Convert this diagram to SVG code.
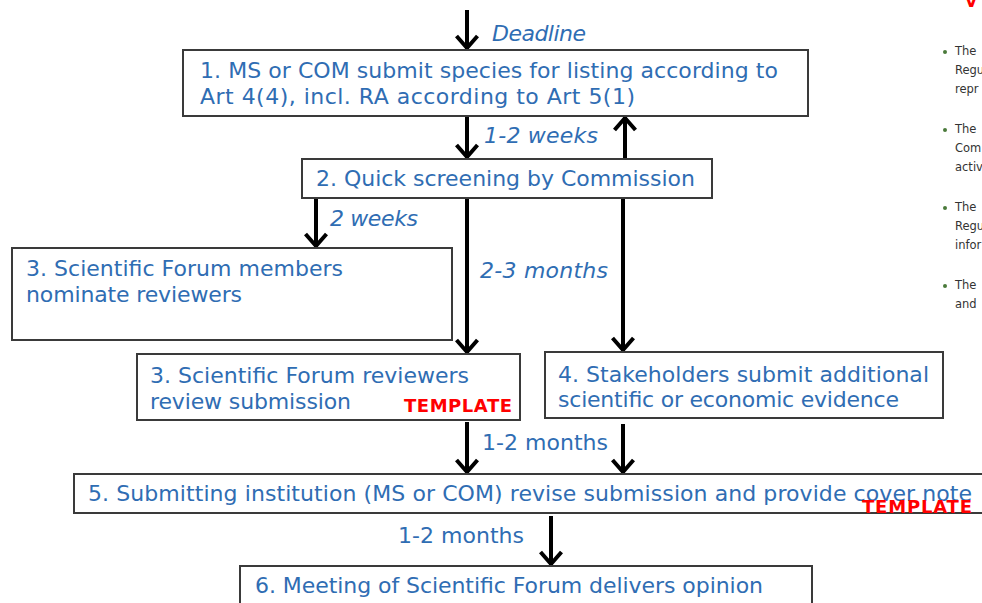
<svg xmlns="http://www.w3.org/2000/svg" width="982" height="603" viewBox="0 0 982 603">
<defs>
<marker id="ah" viewBox="0 0 24 24" refX="20" refY="12" markerWidth="24" markerHeight="24" markerUnits="userSpaceOnUse" orient="auto">
<path d="M7,1.5 L19,12 L7,22.5" fill="none" stroke="#000" stroke-width="4"/>
</marker>
<style>
.box{fill:#fff;stroke:#3a3a3a;stroke-width:2}
.t{font-family:"DejaVu Sans",Verdana,sans-serif;font-size:22px;fill:#2f6db3}
.l{font-family:"DejaVu Sans",Verdana,sans-serif;font-size:22px;fill:#2f6db3}
.i{font-style:italic}
.tpl{font-family:"DejaVu Sans",Verdana,sans-serif;font-size:18px;font-weight:bold;fill:#ff0000}
.c{stroke:#000;stroke-width:4;fill:none;marker-end:url(#ah)}
.side{font-family:"DejaVu Sans",Verdana,sans-serif;font-size:11.5px;fill:#333}
</style>
</defs>
<rect width="982" height="603" fill="#fff"/>
<g id="connectors">
<line class="c" x1="467" y1="10" x2="467" y2="49"/>
<line class="c" x1="467" y1="117" x2="467" y2="158"/>
<line class="c" x1="625" y1="158" x2="625" y2="117"/>
<line class="c" x1="316" y1="199" x2="316" y2="247"/>
<line class="c" x1="467" y1="199" x2="467" y2="353"/>
<line class="c" x1="623" y1="199" x2="623" y2="351"/>
<line class="c" x1="467" y1="422" x2="467" y2="473"/>
<line class="c" x1="623" y1="424" x2="623" y2="473"/>
<line class="c" x1="551" y1="516" x2="551" y2="565"/>
<text class="l i" x="492" y="41" textLength="94">Deadline</text>
<text class="l i" x="484" y="143" textLength="114">1-2 weeks</text>
<text class="l i" x="330" y="226" textLength="88">2 weeks</text>
<text class="l i" x="480" y="278" textLength="128">2-3 months</text>
<text class="l" x="482" y="450" textLength="126">1-2 months</text>
<text class="l" x="398" y="543" textLength="126">1-2 months</text>
</g>
<g id="n1">
<rect class="box" x="183" y="50" width="625" height="66"/>
<text class="t" x="200" y="78" textLength="578">1. MS or COM submit species for listing according to</text>
<text class="t" x="200" y="104" textLength="435">Art 4(4), incl. RA according to Art 5(1)</text>
</g>
<g id="n2">
<rect class="box" x="302" y="159" width="410" height="39"/>
<text class="t" x="316" y="186" textLength="379">2. Quick screening by Commission</text>
</g>
<g id="n3a">
<rect class="box" x="12" y="248" width="440" height="92"/>
<text class="t" x="26" y="276" textLength="317">3. Scientific Forum members</text>
<text class="t" x="26" y="302" textLength="216">nominate reviewers</text>
</g>
<g id="n3b">
<rect class="box" x="137" y="354" width="383" height="66"/>
<text class="t" x="150" y="383" textLength="319">3. Scientific Forum reviewers</text>
<text class="t" x="150" y="409" textLength="201">review submission</text>
<text class="tpl" x="404" y="412" textLength="108">TEMPLATE</text>
</g>
<g id="n4">
<rect class="box" x="545" y="352" width="398" height="66"/>
<text class="t" x="558" y="382" textLength="371">4. Stakeholders submit additional</text>
<text class="t" x="558" y="407" textLength="341">scientific or economic evidence</text>
</g>
<g id="n5">
<rect class="box" x="74" y="474" width="920" height="39"/>
<text class="t" x="88" y="501" textLength="884">5. Submitting institution (MS or COM) revise submission and provide cover note</text>
<text class="tpl" x="862" y="513" textLength="110">TEMPLATE</text>
</g>
<g id="n6">
<rect class="box" x="240" y="566" width="572" height="50"/>
<text class="t" x="255" y="593" textLength="508">6. Meeting of Scientific Forum delivers opinion</text>
</g>
<g id="side">
<text x="965" y="7" font-family="DejaVu Sans,sans-serif" font-size="16" font-weight="bold" fill="#ff0000">V</text>
<circle cx="945" cy="52" r="2" fill="#4a7a3a"/>
<text class="side" x="955" y="55">The</text>
<text class="side" x="955" y="74">Regu</text>
<text class="side" x="955" y="93">repr</text>
<circle cx="945" cy="130" r="2" fill="#4a7a3a"/>
<text class="side" x="955" y="133">The</text>
<text class="side" x="955" y="152">Com</text>
<text class="side" x="955" y="171">activ</text>
<circle cx="945" cy="208" r="2" fill="#4a7a3a"/>
<text class="side" x="955" y="211">The</text>
<text class="side" x="955" y="230">Regu</text>
<text class="side" x="955" y="249">infor</text>
<circle cx="945" cy="286" r="2" fill="#4a7a3a"/>
<text class="side" x="955" y="289">The</text>
<text class="side" x="955" y="308">and</text>
</g>
</svg>
